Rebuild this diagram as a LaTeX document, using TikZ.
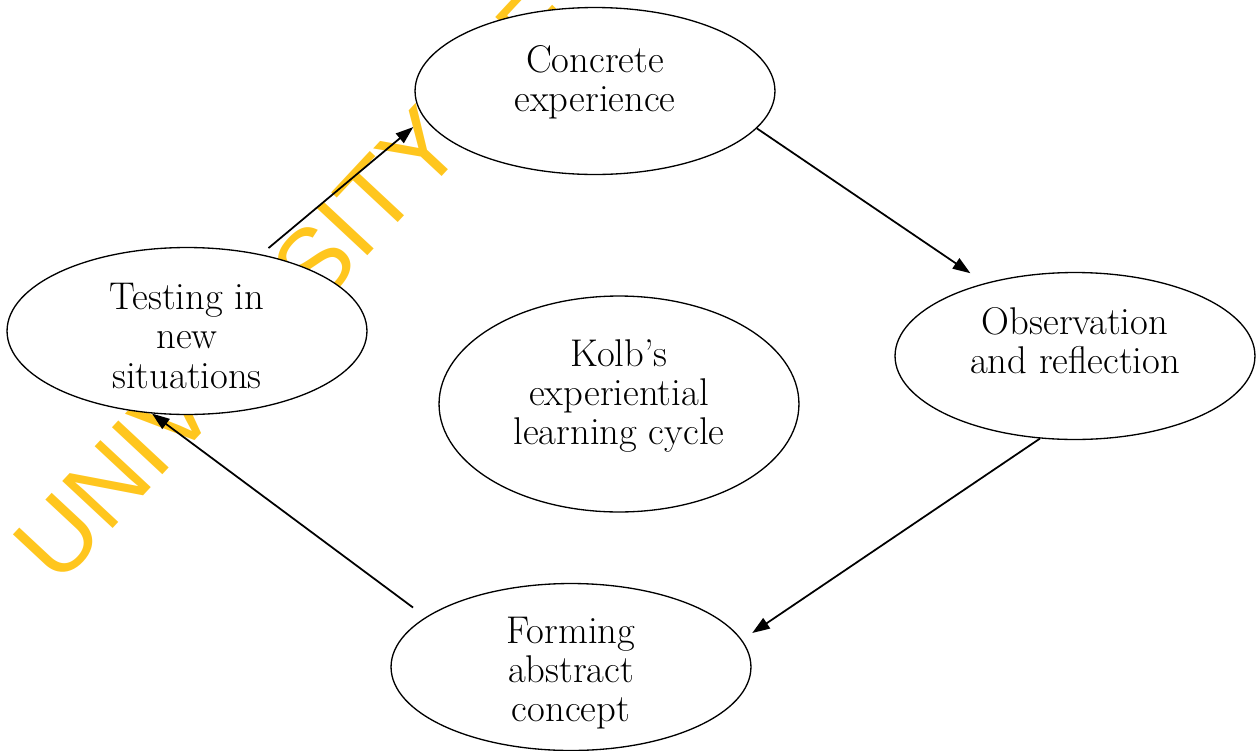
\documentclass[tikz,border=0pt]{standalone}
\usepackage{fontspec}
\newfontfamily\wmfont{Liberation Sans}
\usetikzlibrary{arrows.meta, shapes.geometric}
\definecolor{wmyellow}{RGB}{255,198,30}

\begin{document}
\begin{tikzpicture}[
    x=0.02cm, y=-0.02cm,
    stage/.style={draw, ellipse, fill=white, line width=0.75pt, inner sep=0pt,
      minimum width=7.2cm, minimum height=3.34cm},
    caption/.style={align=center, inner sep=0pt, font=\fontsize{22}{22.3}\selectfont},
    flow/.style={-{Triangle[length=10pt, width=7pt]}, line width=1pt}
  ]
    \useasboundingbox (0,0) rectangle (1259,751);

    % watermark behind the cycle
    \node[rotate=47, anchor=base west, inner sep=0pt, text=wmyellow,
      font=\wmfont\fontsize{57}{57}\selectfont] (mark) at (58,588) {UNIVERSITY OF EDUCATION};

    \node[stage] (conc) at (595,91) {};
    \node[stage] (test) at (187,331) {};
    \node[stage, minimum height=4.32cm] (kolb) at (619,404) {};
    \node[stage] (obs) at (1075,356) {};
    \node[stage] (form) at (571,667) {};

    \node[caption] (concText) at (595,82) {Concrete\\experience};
    \node[caption] (testText) at (187,336) {Testing in\\new\\situations};
    \node[caption] (kolbText) at (619,396) {Kolb’s\\experiential\\learning cycle};
    \node[caption] (obsText) at (1075,341) {Observation\\and reflection};
    \node[caption] (formText) at (571,673) {Forming\\abstract\\concept};

    \draw[flow, shorten <=5.5pt, shorten >=8pt] (test.46) -- (conc.189);
    \draw[flow, shorten >=10pt] (conc.-13) -- (obs.141);
    \draw[flow, shorten >=7pt] (obs.247) -- (form.9);
    \draw[flow, shorten <=9pt] (form.161) -- (test.247);
  \end{tikzpicture}
\end{document}
